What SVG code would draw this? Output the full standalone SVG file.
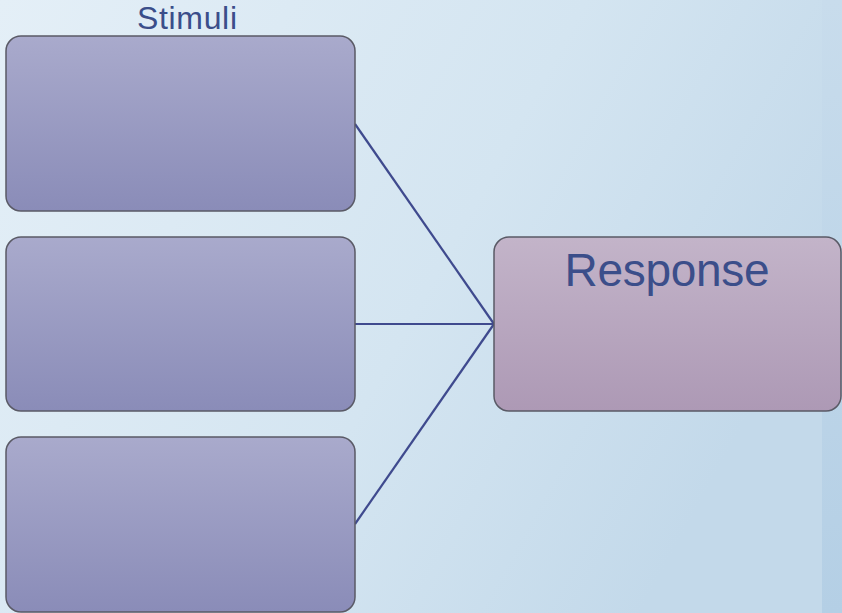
<svg xmlns="http://www.w3.org/2000/svg" width="842" height="613" viewBox="0 0 842 613">
  <defs>
    <linearGradient id="bg" x1="0" y1="0" x2="1" y2="0.4">
      <stop offset="0" stop-color="#e4eff7"/>
      <stop offset="0.6" stop-color="#d4e5f1"/>
      <stop offset="1" stop-color="#c3d9ea"/>
    </linearGradient>
    <linearGradient id="edge" x1="0" y1="0" x2="0" y2="1">
      <stop offset="0" stop-color="#c8dcec"/>
      <stop offset="1" stop-color="#b4cfe5"/>
    </linearGradient>
    <linearGradient id="stim" x1="0" y1="0" x2="0" y2="1">
      <stop offset="0" stop-color="#a9aacc"/>
      <stop offset="1" stop-color="#8a8cb8"/>
    </linearGradient>
    <linearGradient id="resp" x1="0" y1="0" x2="0" y2="1">
      <stop offset="0" stop-color="#c3b4c9"/>
      <stop offset="1" stop-color="#ad99b5"/>
    </linearGradient>
    <style>
      .box { stroke: #5a5a66; stroke-width: 1.5; }
      .stim { fill: url(#stim); }
      .resp { fill: url(#resp); }
      .link { stroke: #3f4a8e; stroke-width: 2.2; fill: none; }
      .label { font-family: "Liberation Sans", "DejaVu Sans", sans-serif; fill: #3b4e8a; text-anchor: middle; }
    </style>
  </defs>

  <!-- backdrop -->
  <rect x="0" y="0" width="842" height="613" fill="url(#bg)"/>
  <rect x="822" y="0" width="20" height="613" fill="url(#edge)"/>

  <!-- connectors -->
  <g id="connectors">
    <line class="link" x1="355" y1="124" x2="494" y2="324"/>
    <line class="link" x1="355" y1="324" x2="494" y2="324"/>
    <line class="link" x1="355" y1="524" x2="494" y2="324"/>
  </g>

  <text class="label" x="187" y="29" font-size="32" textLength="100">Stimuli</text>

  <g id="stimulus1">
    <rect class="box stim" x="6" y="36" width="349" height="175" rx="15"/>
  </g>
  <g id="stimulus2">
    <rect class="box stim" x="6" y="237" width="349" height="174" rx="15"/>
  </g>
  <g id="stimulus3">
    <rect class="box stim" x="6" y="437" width="349" height="175" rx="15"/>
  </g>

  <g id="response">
    <rect class="box resp" x="494" y="237" width="347" height="174" rx="15"/>
    <text class="label" x="667" y="286" font-size="46" textLength="205">Response</text>
  </g>
</svg>
